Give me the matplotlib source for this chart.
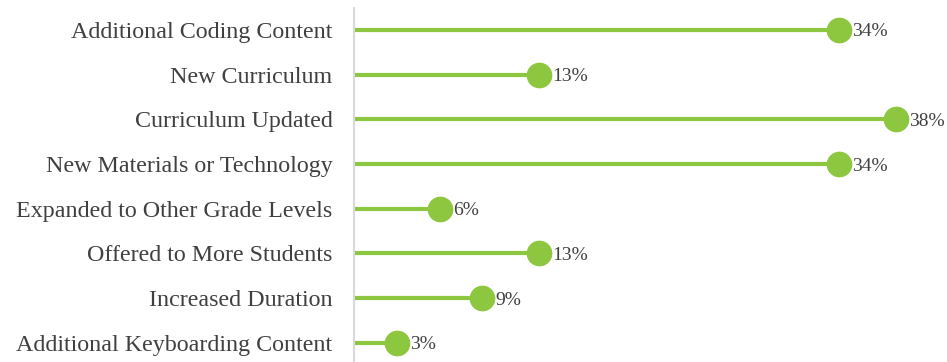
import numpy as np
import matplotlib.pyplot as plt

categories = ['Additional Coding Content', 'New Curriculum', 'Curriculum Updated',
              'New Materials or Technology', 'Expanded to Other Grade Levels',
              'Offered to More Students', 'Increased Duration',
              'Additional Keyboarding Content']
values = [34, 13, 38, 34, 6, 13, 9, 3]

green = '#8DC63F'
text_col = '#404040'
plt.rcParams['font.family'] = ['Liberation Serif', 'DejaVu Serif']

fig = plt.figure(figsize=(9.47, 3.62), dpi=100)
ax = fig.add_axes([354 / 947, 0, 593 / 947, 354 / 362])

y = np.arange(len(categories))
ax.hlines(y, 0, values, color=green, lw=3)
ax.plot(values, y, 'o', color=green, ms=18.5, mec='none')
for yi, v in zip(y, values):
    ax.annotate(f'{v}%', (v, yi), xytext=(9.5, -1.5), textcoords='offset points',
                va='center', ha='left', fontsize=14, color=text_col)

ax.set_xlim(0, 593 / 14.26)
ax.set_ylim(7.43, -0.49)
ax.set_yticks(y)
ax.set_yticklabels(categories, fontsize=17.3, color=text_col)
ax.tick_params(axis='y', length=0, pad=15.5)
ax.set_xticks([])
for s in ['top', 'right', 'bottom']:
    ax.spines[s].set_visible(False)
ax.spines['left'].set_color('#d9d9d9')
ax.spines['left'].set_linewidth(1.5)
ax.patch.set_visible(False)
for ln in ax.lines:
    ln.set_clip_on(False)

fig.savefig('out.png', dpi=100)
